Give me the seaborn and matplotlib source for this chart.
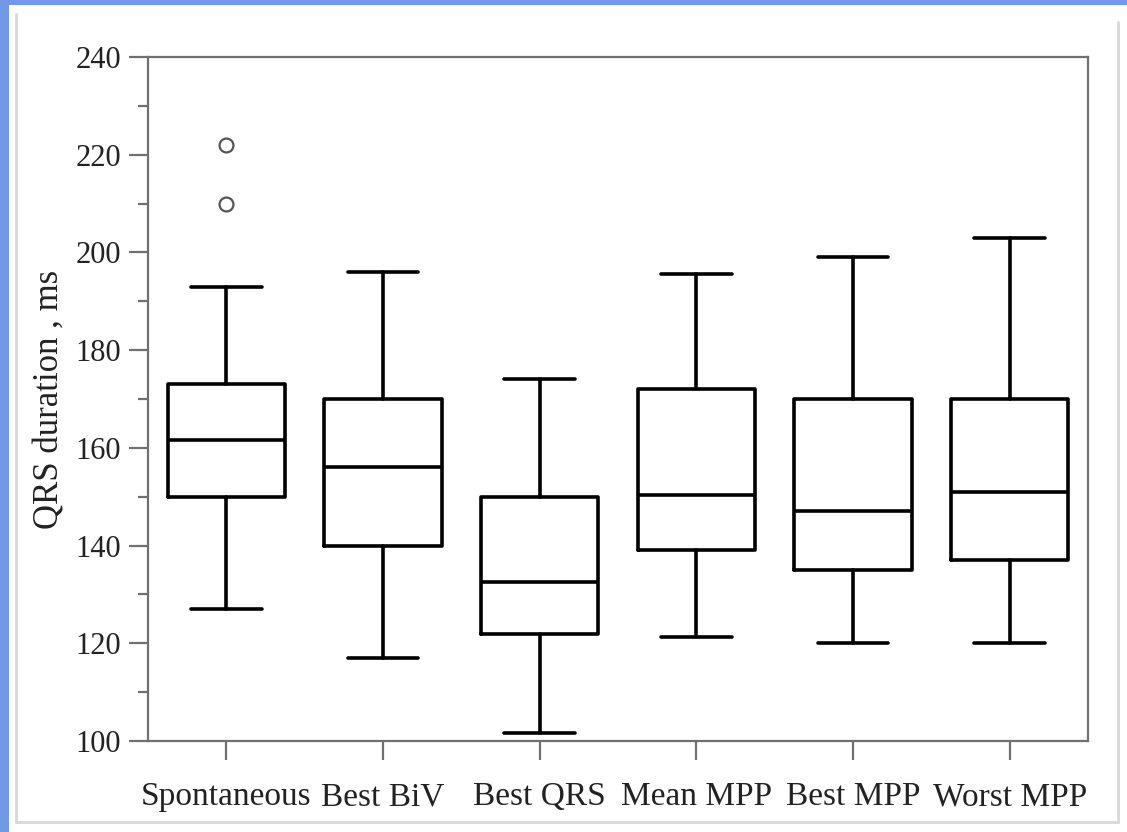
import matplotlib
matplotlib.use("Agg")
import matplotlib.pyplot as plt
from matplotlib.patches import Rectangle
from matplotlib.lines import Line2D
import seaborn as sns

# QRS duration summaries per pacing configuration (ms)
categories = ["Spontaneous", "Best BiV", "Best QRS", "Mean MPP", "Best MPP", "Worst MPP"]
whisker_low = [127, 117, 101.6, 121.3, 120, 120]
q1 = [150, 140, 122, 139, 135, 137]
median = [161.6, 156, 132.5, 150.3, 147, 151]
q3 = [173, 170, 150, 172, 170, 170]
whisker_high = [193, 196, 174, 195.6, 199, 203]
outliers = [[222, 210], [], [], [], [], []]

yticks = [100, 120, 140, 160, 180, 200, 220, 240]

sns.set_style("ticks")
plt.rcParams["font.family"] = ["Liberation Serif", "DejaVu Serif"]

fig = plt.figure(figsize=(11.27, 8.32), dpi=100)
fig.patch.set_facecolor("#7299e8")

W, H = 1127, 832
# white slide panel with a soft grey inner frame
fig.patches.append(Rectangle((9 / W, 0), 1 - 9 / W, 1 - 5 / H,
                             transform=fig.transFigure, facecolor="white",
                             edgecolor="none", zorder=-2))
for xs, ys in [((16 / W, 16 / W), (1 - 14 / H, 1 - 822 / H)),
               ((16 / W, 1118 / W), (1 - 822 / H, 1 - 822 / H)),
               ((1118 / W, 1118 / W), (1 - 22 / H, 1 - 822 / H))]:
    fig.lines.append(Line2D(xs, ys, transform=fig.transFigure,
                            color="#d8d8d8", lw=2, zorder=-1))

ax = fig.add_axes([148 / W, 1 - 741 / H, 940 / W, 684 / H])
ax.set_facecolor("white")

stats = []
for i, name in enumerate(categories):
    stats.append(dict(label=name, whislo=whisker_low[i], q1=q1[i], med=median[i],
                      q3=q3[i], whishi=whisker_high[i], fliers=outliers[i]))

line = dict(color="black", linewidth=2.6)
ax.bxp(stats, positions=range(len(categories)), widths=0.75,
       showfliers=True, patch_artist=False,
       boxprops=line, medianprops=line, whiskerprops=line,
       capprops=line, capwidths=0.45,
       flierprops=dict(marker="o", markersize=10, markerfacecolor="white",
                       markeredgecolor="#555555", markeredgewidth=1.6))

ax.set_xlim(-0.5, len(categories) - 0.5)
ax.set_ylim(100, 240)
ax.set_yticks(yticks)
ax.set_yticks(range(110, 240, 20), minor=True)
ax.set_xticks(range(len(categories)))
ax.set_xticklabels(categories)

spine_col = "#707070"
for s in ax.spines.values():
    s.set_color(spine_col)
    s.set_linewidth(1.6)
ax.tick_params(axis="both", which="major", length=13.5, width=1.6, color=spine_col,
               labelcolor="#222222", direction="out")
ax.tick_params(axis="y", which="minor", length=7, width=1.6, color=spine_col,
               direction="out")
ax.tick_params(axis="x", labelsize=24, pad=16)
ax.tick_params(axis="y", labelsize=22, pad=6)
ax.set_ylabel("QRS duration , ms", fontsize=25, color="#222222", labelpad=6)

fig.savefig("out.png", dpi=100, facecolor=fig.get_facecolor())
